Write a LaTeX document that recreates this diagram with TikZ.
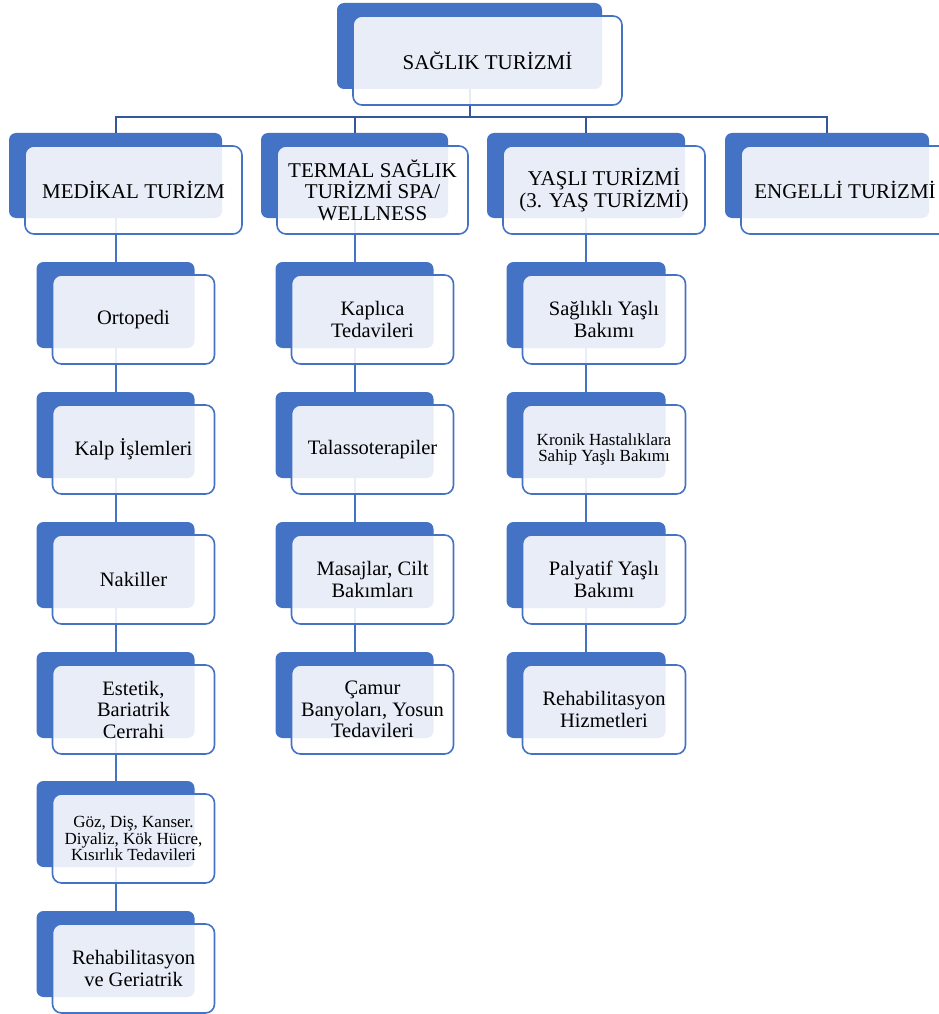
\documentclass[tikz,border=0pt]{standalone}
\usepackage{fontspec}
\setmainfont{Liberation Serif}
\definecolor{sblue}{RGB}{68,114,196}
\definecolor{lineblue}{RGB}{52,87,156}
\pgfdeclarelayer{bg}
\pgfsetlayers{bg,main}
\tikzset{
  backbox/.style={rectangle, rounded corners=7pt, fill=sblue, inner sep=0pt, draw=none},
  frontbox/.style={rectangle, rounded corners=9pt, draw=sblue, line width=1.6pt, fill=white, fill opacity=0.88, text opacity=1, inner sep=0pt, align=center},
  bigtext/.style={font=\fontsize{21}{21.5}\selectfont},
  midtext/.style={font=\fontsize{20.5}{21.5}\selectfont},
  smalltext/.style={font=\fontsize{17}{16.5}\selectfont},
  topline/.style={draw=lineblue, line width=2pt},
  colline/.style={draw=sblue, line width=2pt},
}
\newcommand\mkbox[7]{%
  \node[backbox, minimum width=#4pt, minimum height=#5pt] (#1) at (#2,#3) {};
  \node[frontbox, #6, minimum width=#4pt+4pt, minimum height=#5pt+3pt] (#1f) at (#2+18,#3+14.5) {#7};
}
\begin{document}
\begin{tikzpicture}[x=1pt,y=-1pt]
\useasboundingbox (0,0) rectangle (939,1014);
% top
\mkbox{top}{469.5}{46}{265}{86}{bigtext}{SAĞLIK TURİZMİ}
% level 1
\mkbox{med}{115.5}{175.5}{213}{85}{bigtext}{MEDİKAL TURİZM}
\mkbox{ter}{354.5}{175.5}{187}{85}{bigtext}{TERMAL SAĞLIK\\TURİZMİ SPA/\\WELLNESS}
\mkbox{yas}{586}{175.5}{198}{85}{bigtext}{YAŞLI TURİZMİ\\(3. YAŞ TURİZMİ)}
\mkbox{eng}{827}{175.5}{204}{85}{bigtext}{ENGELLİ TURİZMİ}
% medical column
\mkbox{m1}{115.5}{305}{158}{86}{midtext}{Ortopedi}
\mkbox{m2}{115.5}{435}{158}{86}{midtext}{Kalp İşlemleri}
\mkbox{m3}{115.5}{565}{158}{86}{midtext}{Nakiller}
\mkbox{m4}{115.5}{695}{158}{86}{midtext}{Estetik,\\Bariatrik\\Cerrahi}
\mkbox{m5}{115.5}{824}{158}{86}{smalltext}{Göz, Diş, Kanser.\\Diyaliz, Kök Hücre,\\Kısırlık Tedavileri}
\mkbox{m6}{115.5}{954}{158}{86}{midtext}{Rehabilitasyon\\ve Geriatrik}
% termal column
\mkbox{t1}{354.5}{305}{158}{86}{midtext}{Kaplıca\\Tedavileri}
\mkbox{t2}{354.5}{435}{158}{86}{midtext}{Talassoterapiler}
\mkbox{t3}{354.5}{565}{158}{86}{midtext}{Masajlar, Cilt\\Bakımları}
\mkbox{t4}{354.5}{695}{158}{86}{midtext}{Çamur\\Banyoları, Yosun\\Tedavileri}
% yasli column
\mkbox{y1}{586}{305}{159}{86}{midtext}{Sağlıklı Yaşlı\\Bakımı}
\mkbox{y2}{586}{435}{159}{86}{smalltext}{Kronik Hastalıklara\\Sahip Yaşlı Bakımı}
\mkbox{y3}{586}{565}{159}{86}{midtext}{Palyatif Yaşlı\\Bakımı}
\mkbox{y4}{586}{695}{159}{86}{midtext}{Rehabilitasyon\\Hizmetleri}
% connectors
\begin{pgfonlayer}{bg}
  \coordinate (hub) at (469.5,117.5);
  \draw[topline] (top.south) -- (hub);
  \draw[topline] (hub) -| (med.north);
  \draw[topline] (hub) -| (ter.north);
  \draw[topline] (hub) -| (yas.north);
  \draw[topline] (hub) -| (eng.north);
  \draw[colline] (med.south) -- (m1.north);
  \draw[colline] (m1.south) -- (m2.north);
  \draw[colline] (m2.south) -- (m3.north);
  \draw[colline] (m3.south) -- (m4.north);
  \draw[colline] (m4.south) -- (m5.north);
  \draw[colline] (m5.south) -- (m6.north);
  \draw[colline] (ter.south) -- (t1.north);
  \draw[colline] (t1.south) -- (t2.north);
  \draw[colline] (t2.south) -- (t3.north);
  \draw[colline] (t3.south) -- (t4.north);
  \draw[colline] (yas.south) -- (y1.north);
  \draw[colline] (y1.south) -- (y2.north);
  \draw[colline] (y2.south) -- (y3.north);
  \draw[colline] (y3.south) -- (y4.north);
\end{pgfonlayer}
\end{tikzpicture}
\end{document}
